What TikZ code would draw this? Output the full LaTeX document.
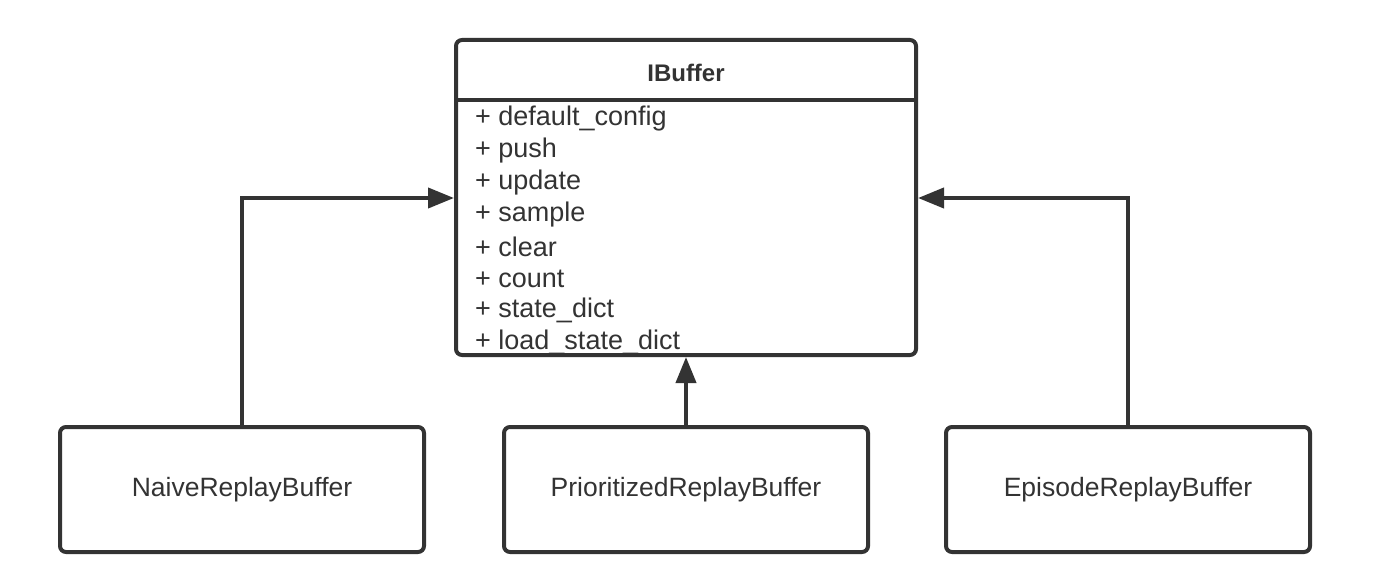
\documentclass[tikz,border=0pt]{standalone}
\usepackage{fontspec}
\setmainfont{Liberation Sans}
\usetikzlibrary{arrows.meta}
\definecolor{ink}{HTML}{333333}
\tikzset{
  classbox/.style={draw=ink, line width=4pt, rounded corners=6pt, fill=white},
  leafbox/.style={classbox, minimum width=364pt, minimum height=125pt, inner sep=0pt,
    font=\fontsize{26.5}{30}\selectfont, text=ink},
  member/.style={anchor=west, inner sep=0pt, font=\fontsize{27}{30}\selectfont, text=ink},
  inherit/.style={draw=ink, line width=4pt, -{Triangle[length=26pt,width=20pt]}},
}
\begin{document}
\begin{tikzpicture}[x=1pt,y=-1pt]
\useasboundingbox (0,0) rectangle (1386,586);
% class box
\node[classbox, minimum width=460pt, minimum height=315pt, inner sep=0pt] (ib) at (686,197.5) {};
\draw[draw=ink, line width=4pt] (ib.west |- 0,100) coordinate (sepL) -- (ib.east |- 0,100) coordinate (sepR);
\node[font=\fontsize{24}{28}\selectfont\bfseries, text=ink] (title) at (686,73) {IBuffer};
\node[member] (m1) at (475,119) {+ default\_config};
\node[member] (m2) at (475,151) {+ push};
\node[member] (m3) at (475,183) {+ update};
\node[member] (m4) at (475,215) {+ sample};
\node[member] (m5) at (475,247) {+ clear};
\node[member] (m6) at (475,279) {+ count};
\node[member] (m7) at (475,310) {+ state\_dict};
\node[member] (m8) at (475,342) {+ load\_state\_dict};
% leaves
\node[leafbox] (naive) at (242,489.5) {NaiveReplayBuffer};
\node[leafbox] (prio) at (686,489.5) {PrioritizedReplayBuffer};
\node[leafbox] (epi) at (1128,489.5) {EpisodeReplayBuffer};
% connectors
\coordinate (ljoin) at (242,198);
\coordinate (rjoin) at (1128,198);
\draw[inherit] (naive.north) -- (ljoin) -- (ib.west |- ljoin);
\draw[inherit] (epi.north) -- (rjoin) -- (ib.east |- rjoin);
\draw[inherit] (prio.north) -- (ib.south);
\end{tikzpicture}
\end{document}
